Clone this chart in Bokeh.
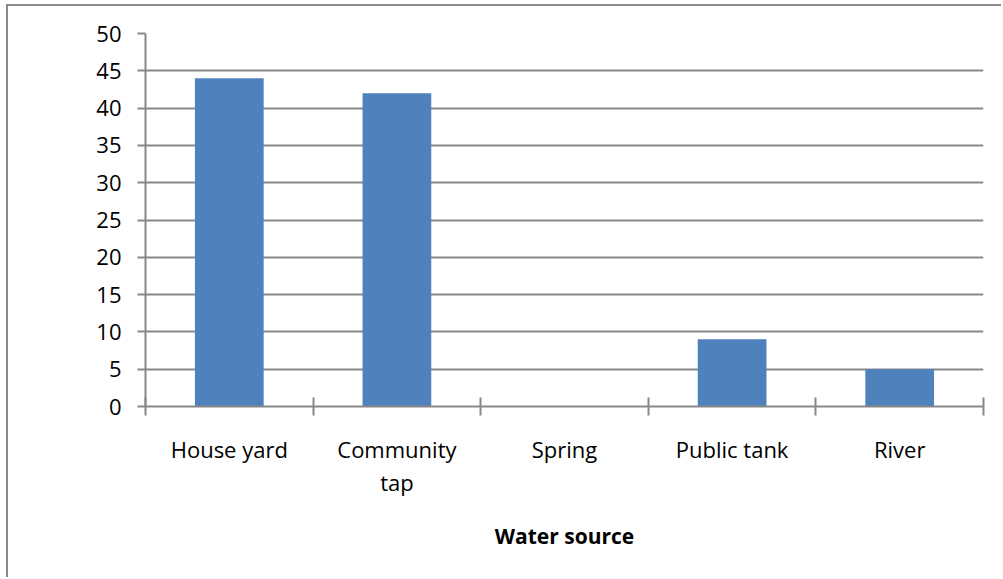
from bokeh.plotting import figure
from bokeh.models import Range1d, LinearAxis, FixedTicker
from bokeh.embed import file_html
from bokeh.resources import INLINE

# Respondents by main water source
categories = ["House yard", "Community\ntap", "Spring", "Public tank", "River"]
values = [44, 42, 0, 9, 5]
y_ticks = [0, 5, 10, 15, 20, 25, 30, 35, 40, 45, 50]

GRID = "#888888"
BAR = "#4F81BD"
FONT = "Open Sans"

n = len(categories)
centers = [i + 0.5 for i in range(n)]   # each category occupies one unit
edges = list(range(n + 1))

p = figure(
    width=995, height=573,
    x_range=Range1d(0, n),
    y_range=Range1d(0, 50),
    x_axis_location=None, y_axis_location="left",
    output_backend="svg", toolbar_location=None,
    min_border_left=137, min_border_right=20,
    min_border_top=27, min_border_bottom=173,
)
p.styles = {
    "margin-left": "6px", "margin-top": "4px",
    "border-left": "2px solid #8a8a8a", "border-top": "2px solid #8a8a8a",
}
p.outline_line_color = None
p.background_fill_color = "white"
p.border_fill_color = "white"

p.vbar(x=centers, top=values, width=0.41, color=BAR, line_color=None)

# value axis
ya = p.yaxis[0]
ya.ticker = FixedTicker(ticks=y_ticks)
ya.axis_line_color = GRID
ya.axis_line_width = 2
ya.major_tick_line_color = GRID
ya.major_tick_line_width = 2
ya.major_tick_out = 8
ya.major_tick_in = 0
ya.minor_tick_line_color = None
ya.major_label_standoff = 16
ya.major_label_text_font = FONT
ya.major_label_text_font_size = "22px"
ya.major_label_text_color = "black"

p.xgrid.grid_line_color = None
p.ygrid.ticker = FixedTicker(ticks=y_ticks)
p.ygrid.grid_line_color = GRID
p.ygrid.grid_line_width = 2

# category boundary ticks on the base line (no labels)
edge_axis = LinearAxis(ticker=FixedTicker(ticks=edges))
edge_axis.major_label_overrides = {e: "" for e in edges}
edge_axis.axis_line_color = GRID
edge_axis.axis_line_width = 2
edge_axis.major_tick_line_color = GRID
edge_axis.major_tick_line_width = 2
edge_axis.major_tick_in = 9
edge_axis.major_tick_out = 9
edge_axis.minor_tick_line_color = None
edge_axis.major_label_standoff = 0
p.add_layout(edge_axis, "below")

# category names and axis title
cat_axis = LinearAxis(ticker=FixedTicker(ticks=centers))
cat_axis.major_label_overrides = {c: name for c, name in zip(centers, categories)}
cat_axis.axis_line_color = None
cat_axis.major_tick_line_color = None
cat_axis.major_tick_out = 0
cat_axis.major_tick_in = 0
cat_axis.minor_tick_line_color = None
cat_axis.major_label_standoff = 18
cat_axis.major_label_text_font = FONT
cat_axis.major_label_text_font_size = "22px"
cat_axis.major_label_text_line_height = 1.1
cat_axis.major_label_text_color = "black"
cat_axis.axis_label = "Water source"
cat_axis.axis_label_text_font = FONT
cat_axis.axis_label_text_font_size = "21px"
cat_axis.axis_label_text_font_style = "bold"
cat_axis.axis_label_text_color = "black"
cat_axis.axis_label_standoff = 22
p.add_layout(cat_axis, "below")

open("out.html", "w").write(file_html(p, INLINE))
